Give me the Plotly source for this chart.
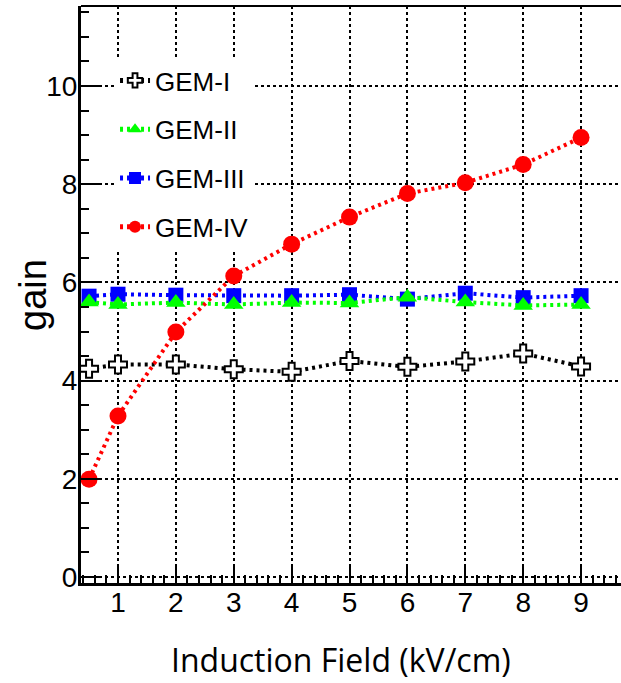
import plotly.graph_objects as go

field = [0.5, 1, 2, 3, 4, 5, 6, 7, 8, 9]
gem_i = [4.24, 4.33, 4.33, 4.23, 4.18, 4.40, 4.28, 4.39, 4.55, 4.29]
gem_ii = [5.60, 5.55, 5.59, 5.55, 5.59, 5.58, 5.70, 5.60, 5.53, 5.55]
gem_iii = [5.72, 5.76, 5.74, 5.73, 5.73, 5.75, 5.66, 5.78, 5.69, 5.73]
gem_iv = [1.99, 3.28, 4.99, 6.13, 6.78, 7.33, 7.81, 8.03, 8.40, 8.95]

names = ["GEM-I", "GEM-II", "GEM-III", "GEM-IV"]
x_title = "Induction Field (kV/cm)"
y_title = "gain"

DASH = "3px,4px"

fig = go.Figure()

fig.add_trace(go.Scatter(
    x=field, y=gem_i, name=names[0], mode="lines+markers", legendgroup="a", legendrank=1,
    line=dict(color="black", width=4, dash=DASH),
    marker=dict(symbol="cross", size=15, color="white", line=dict(color="black", width=2))))
fig.add_trace(go.Scatter(
    x=field, y=gem_iii, name=names[2], mode="lines+markers", legendgroup="c", legendrank=3,
    line=dict(color="#0000ff", width=4, dash=DASH),
    marker=dict(symbol="square", size=15, color="#0000ff")))
fig.add_trace(go.Scatter(
    x=field, y=gem_ii, name=names[1], mode="lines+markers", legendgroup="b", legendrank=2,
    line=dict(color="#00ff00", width=4, dash=DASH),
    marker=dict(symbol="triangle-up", size=17, color="#00ff00")))
fig.add_trace(go.Scatter(
    x=field, y=gem_iv, name=names[3], mode="lines+markers", legendgroup="d", legendrank=4,
    line=dict(color="#ff0000", width=4, dash=DASH),
    marker=dict(symbol="circle", size=17, color="#ff0000")))

axis_font = dict(family="Liberation Sans, Arial, sans-serif", size=28, color="black")

fig.update_layout(
    width=621, height=683,
    margin=dict(l=81, r=0, t=6, b=100),
    paper_bgcolor="white", plot_bgcolor="white",
    showlegend=True,
    legend=dict(x=0.063, y=0.9116, xanchor="left", yanchor="top",
                font=dict(family="Liberation Sans, Arial, sans-serif", size=26, color="black"),
                bgcolor="white", tracegroupgap=12, itemsizing="constant",
                entrywidth=172, entrywidthmode="pixels"),
    xaxis=dict(range=[0.361, 9.69], tick0=0, dtick=1, ticks="inside", ticklen=16, tickwidth=2,
               tickcolor="black", showline=True, linewidth=3, linecolor="black",
               showgrid=True, gridcolor="black", gridwidth=1.5, griddash="dot", zeroline=False,
               tickfont=axis_font, ticklabelstandoff=-8,
               minor=dict(dtick=0.2, tick0=0, ticks="inside", ticklen=8, tickwidth=1.5,
                          tickcolor="black", showgrid=False)),
    yaxis=dict(range=[-0.122, 11.63], tick0=0, dtick=2, ticks="inside", ticklen=18, tickwidth=2,
               tickcolor="black", showline=True, linewidth=3, linecolor="black",
               showgrid=True, gridcolor="black", gridwidth=1.5, griddash="dot", zeroline=False,
               tickfont=axis_font, ticklabelstandoff=-5,
               minor=dict(dtick=0.5, tick0=0, ticks="inside", ticklen=8, tickwidth=1.5,
                          tickcolor="black", showgrid=False)),
    shapes=[dict(type="line", xref="paper", yref="paper", x0=0, x1=1, y0=1, y1=1,
                 line=dict(color="black", width=2))],
    annotations=[
        dict(text=x_title, xref="paper", yref="paper", x=0.481, y=-0.1334,
             xanchor="center", yanchor="middle", showarrow=False,
             font=dict(family="Open Sans, sans-serif", size=32, color="black")),
        dict(text=y_title, xref="paper", yref="paper", x=-0.09, y=0.5, textangle=-90,
             xanchor="center", yanchor="middle", showarrow=False,
             font=dict(family="Liberation Sans, Arial, sans-serif", size=38, color="black")),
    ],
)

fig.write_html("out.html", config={"displayModeBar": False},
               post_script="document.body.style.margin='0px';")
